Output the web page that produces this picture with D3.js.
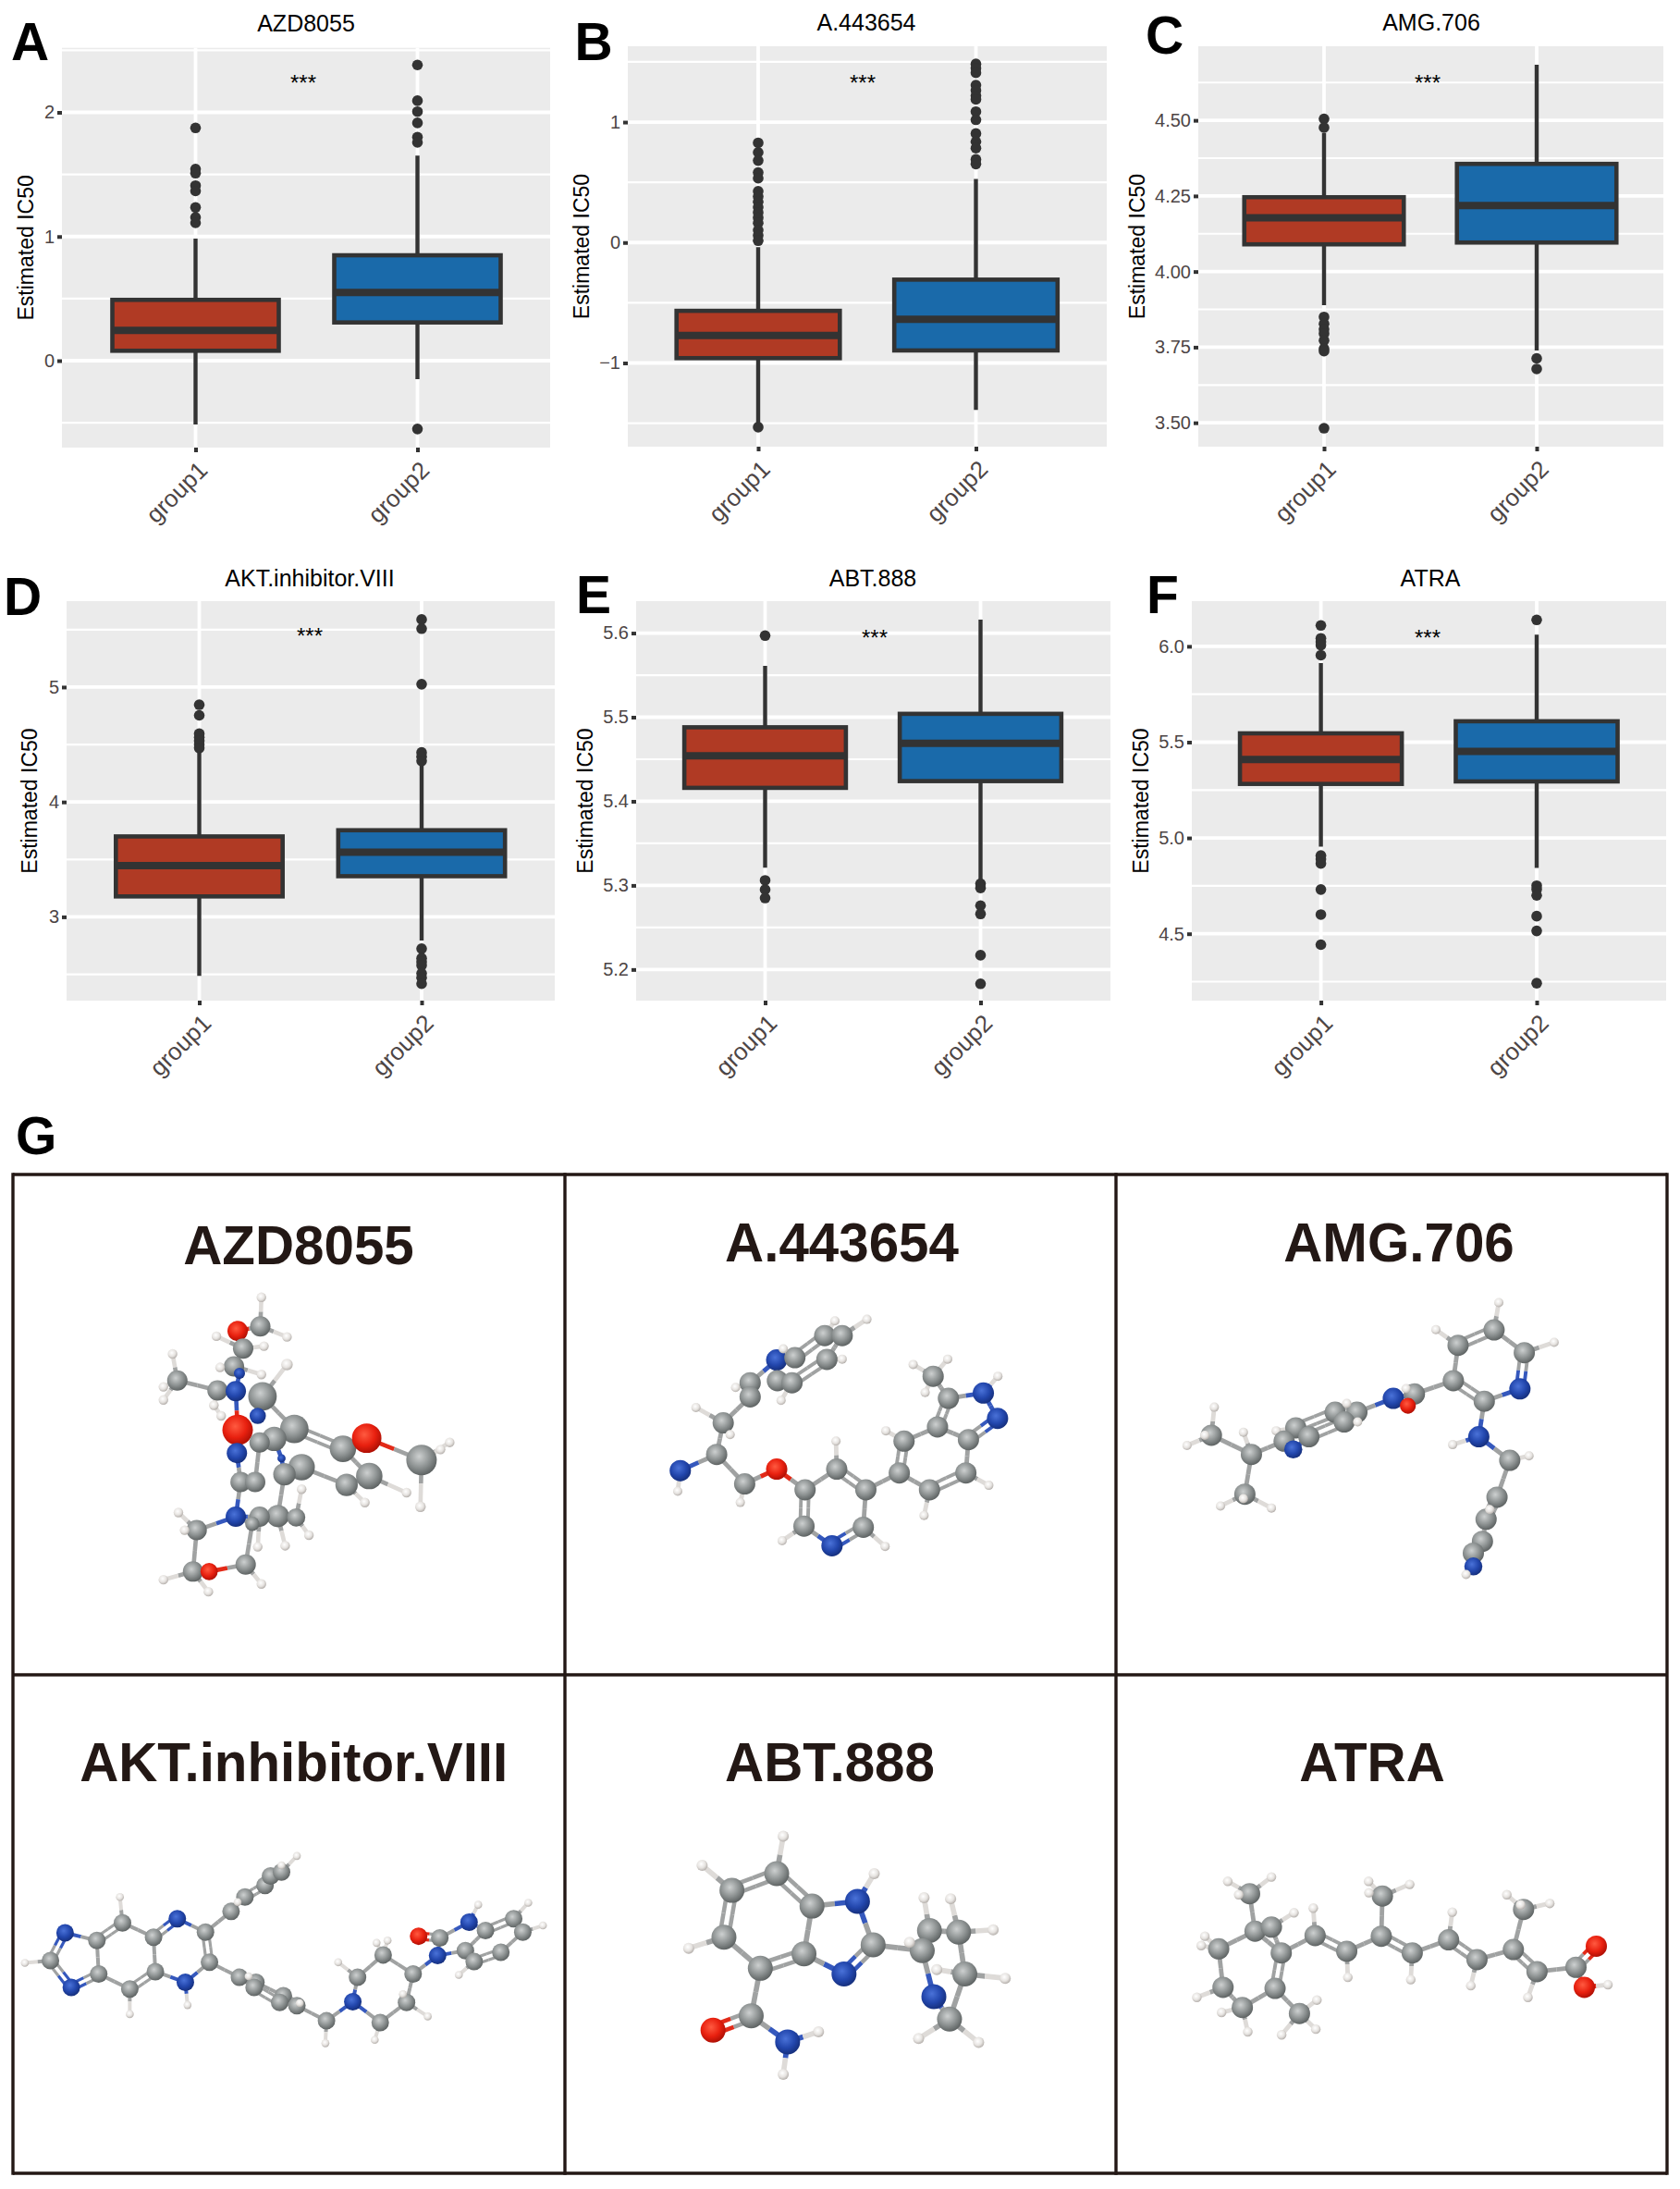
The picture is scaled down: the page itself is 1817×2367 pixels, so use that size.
<!DOCTYPE html>
<html><head><meta charset="utf-8">
<script src="https://cdn.jsdelivr.net/npm/d3@7"></script>
<style>html,body{margin:0;padding:0;background:#fff}svg{display:block}text{font-family:"Liberation Sans",Arial,sans-serif}</style>
</head><body><svg id="c" width="1817" height="2367"></svg>
<script>
// ---------- chart data ----------
const drugs=["AZD8055","A.443654","AMG.706","AKT.inhibitor.VIII","ABT.888","ATRA"];
const letters=["A","B","C","D","E","F","G"];
const groups=["group1","group2"];
const yDomains=[[-0.70,2.52],[-1.695,1.63],[3.421,4.745],[2.271,5.748],[5.163,5.638],[4.151,6.236]];
const majorTicks=[[0,1,2],[-1,0,1],[3.5,3.75,4,4.25,4.5],[3,4,5],[5.2,5.3,5.4,5.5,5.6],[4.5,5,5.5,6]];
const tickLabels=[["0","1","2"],["−1","0","1"],["3.50","3.75","4.00","4.25","4.50"],["3","4","5"],["5.2","5.3","5.4","5.5","5.6"],["4.5","5.0","5.5","6.0"]];
const minorTicks=[[-0.5,0.5,1.5,2.5],[-1.5,-0.5,0.5,1.5],[3.625,3.875,4.125,4.375,4.625],[2.5,3.5,4.5,5.5],[5.25,5.35,5.45,5.55],[4.25,4.75,5.25,5.75]];
const q1=[[0.08,0.308],[-0.96,-0.896],[4.09,4.096],[3.178,3.354],[5.416,5.424],[5.282,5.295]];
const medians=[[0.245,0.55],[-0.772,-0.637],[4.178,4.218],[3.446,3.563],[5.454,5.469],[5.41,5.452]];
const q3=[[0.49,0.849],[-0.567,-0.308],[4.246,4.356],[3.70,3.754],[5.488,5.504],[5.546,5.609]];
const whiskerLow=[[-0.513,-0.148],[-1.5,-1.389],[3.889,3.739],[2.486,2.794],[5.321,5.304],[4.954,4.843]];
const whiskerHigh=[[0.983,1.652],[-0.038,0.529],[4.458,4.684],[4.44,4.332],[5.561,5.616],[5.913,6.061]];
const outliersA=[[1.875,1.544,1.51,1.41,1.367,1.234,1.154,1.11],[2.382,2.094,2.006,1.915,1.80,1.758,-0.55]];
const outliersB=[[0.828,0.749,0.681,0.581,0.534,0.426,0.382,0.338,0.294,0.25,0.206,0.162,0.103,0.059,0.015,-1.533],[1.483,1.448,1.41,1.307,1.263,1.219,1.189,1.087,1.019,0.905,0.837,0.784,0.69,0.652]];
const outliersC=[[4.505,4.476,3.85,3.827,3.809,3.795,3.772,3.745,3.737,3.482],[3.713,3.678]];
const outliersD=[[4.846,4.754,4.594,4.563,4.532,4.50,4.47],[5.588,5.508,5.025,4.431,4.394,4.357,2.723,2.64,2.609,2.578,2.508,2.47,2.418]];
const outliersE=[[5.597,5.306,5.295,5.285],[5.302,5.297,5.276,5.266,5.217,5.183]];
const outliersF=[[6.109,6.042,6.024,6.006,5.954,4.908,4.889,4.867,4.731,4.60,4.443],[6.138,4.751,4.732,4.70,4.592,4.515,4.242]];
const outliers=[outliersA,outliersB,outliersC,outliersD,outliersE,outliersF];
const significance="***";

// ---------- molecule data: [element, x, y, relative size], bonds: [a, b, order], read in crop units of 1568 per side ----------
const molAZD=[["H",715,530],["C",712,612],["O",650,625],["H",592,640],["H",785,642],["C",665,675],["H",722,668],["C",640,725],["H",602,728],["H",715,748],["N",655,745,.55],["C",595,793],["C",485,765],["H",472,690],["H",447,783],["H",447,820],["N",645,795],["C",718,810,1.4],["H",785,720,1.2],["H",585,835],["H",605,865],["N",705,865,.8],["O",650,905,1.5],["C",805,902,1.4],["C",750,930,1.2],["C",710,940],["N",648,970],["C",938,958,1.3],["O",1003,928,1.45],["C",1153,990,1.5],["H",1230,940],["H",1150,1122,1.1],["H",1205,960],["C",825,1010,1.3],["C",778,1030,1.1],["N",770,985,.4],["C",1010,1035,1.3],["C",948,1060,1.1],["H",1112,1082],["H",998,1110],["C",658,1052],["C",698,1052],["N",645,1150],["C",760,1148,1.1],["C",710,1150],["C",810,1152,.9],["C",690,1170,.7],["H",825,1072],["H",845,1202],["H",780,1232],["H",705,1235],["C",538,1188],["H",488,1138],["H",505,1188],["C",528,1305],["O",572,1305,.85],["C",672,1285],["H",447,1328],["H",570,1362],["H",715,1340]];
const bondAZD=[[0,1],[1,2],[1,4],[2,5],[5,3],[5,6],[5,7],[7,8],[7,9],[7,10],[10,16],[11,16],[11,12],[12,13],[12,14],[12,15],[11,19],[19,20],[17,18],[17,21],[17,23],[16,22],[22,26],[26,40],[40,41,2],[40,42],[41,25],[25,24],[24,23],[23,27,2],[27,28],[28,29],[29,30],[29,31],[29,32],[27,36],[36,37],[36,38],[37,39],[33,37],[33,34],[34,35],[35,24],[34,43],[43,44],[43,45],[43,49],[45,47],[45,48],[44,42],[44,50],[42,51],[42,46],[46,56],[51,52],[51,53],[51,54],[54,55],[55,56],[54,57],[54,58],[56,59]];
const molA44=[["H",858,397],["H",770,402],["C",742,452],["C",790,452],["N",610,535],["C",660,527],["H",628,497],["C",748,533],["H",790,532],["C",537,612],["H",497,628],["C",612,605],["C",652,612],["H",622,672],["C",537,660],["C",463,748],["H",388,696],["H",482,788],["C",445,855],["N",345,910],["H",338,980],["C",522,955],["H",510,1018],["O",610,905],["C",688,975],["C",775,905],["H",773,810],["C",855,975],["C",685,1098],["H",625,1148],["N",762,1165],["C",848,1102],["H",908,1167],["C",947,918],["C",960,810],["H",910,775],["C",1030,975],["H",1015,1062],["C",1130,918],["H",1193,960],["C",1137,805],["C",1052,762],["C",1082,665],["C",1040,590],["H",985,550],["H",1080,532],["H",1018,645],["N",1178,647],["H",1218,590],["N",1217,733]];
const bondA44=[[0,3],[1,2],[2,3,2],[2,5,2],[3,7],[5,4],[6,5],[7,12,2],[7,8],[4,9],[9,14,2],[4,11],[11,12],[12,13],[9,10],[14,15],[15,16],[15,17],[15,18],[18,19],[19,20],[18,21],[21,22],[21,23],[23,24],[24,25],[25,26],[25,27,2],[24,28,2],[28,29],[28,30],[30,31,2],[31,32],[31,27],[27,33],[33,34,2],[34,35],[34,41],[33,36],[36,37],[36,38,2],[38,39],[38,40],[40,41],[41,42,2],[42,43],[43,44],[43,45],[43,46],[42,47],[47,48],[47,49],[49,40,2]];
const molAMG=[["H",1070,340],["C",1057,433],["H",897,432],["C",958,485],["C",1140,510],["H",1222,475],["C",945,605],["N",1128,633],["C",1030,675],["C",838,650],["N",780,665],["H",815,632],["O",820,690,.75],["C",680,712],["C",620,712],["H",652,682],["C",645,745],["H",682,745],["C",512,765],["C",548,795],["H",458,775],["C",480,810],["N",505,838,.85],["C",390,855],["C",280,790],["H",288,695],["H",262,790],["H",213,825],["H",368,780],["C",372,990],["H",305,1030],["H",368,1005],["H",445,1037],["N",1015,795],["H",943,822],["C",1100,875],["H",1153,860],["C",1065,1000],["C",1035,1075],["H",1045,1042],["C",1025,1150],["C",1000,1190],["N",1000,1235,.85],["H",980,1262]];
const bondAMG=[[0,1],[1,3,2],[2,3],[1,4],[4,5],[4,7,2],[3,6],[6,8,2],[7,8],[6,9],[9,10],[9,11],[9,12,2],[10,13],[13,14,2],[14,15],[13,16],[14,18,2],[16,19,2],[16,17],[18,21],[19,22],[21,22,2],[18,20],[21,23],[23,24],[24,25],[24,26],[24,27],[23,28],[23,29],[29,30],[29,31],[29,32],[8,33],[33,34],[33,35],[35,36],[35,37],[37,38,2],[38,39],[38,40],[40,41,2],[41,42],[42,43]];
const molAKT=[["H",68,892],["C",138,885],["N",178,802],["N",195,965],["C",265,825],["C",270,925],["C",335,772],["H",328,695],["C",355,970],["H",355,1045],["C",420,815],["C",425,918],["N",485,760],["N",507,950],["H",513,1018],["C",562,800],["C",573,890],["C",632,738],["C",670,695],["C",725,660],["C",740,632],["C",770,620],["H",812,572],["H",770,600],["H",650,710],["C",655,935],["C",700,950],["C",695,965],["C",775,990],["C",765,1010],["C",812,1020],["H",680,932],["H",820,1012],["C",893,1065],["H",890,1132],["N",965,1008],["C",978,935],["H",925,890],["C",1048,868],["H",1030,832],["H",1060,825],["C",1130,925],["C",1040,1070],["H",1025,1122],["C",1112,1010],["H",1170,1052],["H",1102,985],["N",1197,870],["C",1203,817],["O",1145,812],["N",1283,770],["H",1308,718],["C",1328,795],["C",1273,855],["C",1297,888],["H",1255,928],["C",1370,860],["C",1405,760],["C",1430,800],["H",1445,712],["H",1485,780]];
const bondAKT=[[0,1],[1,2,2],[1,3,2],[2,4],[3,5,2],[4,5],[4,6,2],[5,8],[6,7],[6,10],[8,9],[8,11,2],[10,11],[10,12,2],[11,13],[13,14],[12,15],[13,16],[15,16,2],[15,17],[17,18],[18,19,2],[19,20],[20,21],[21,22],[20,23],[18,24],[16,25],[25,26,2],[25,27],[26,28],[27,29,2],[28,30,2],[29,30],[30,32],[26,31],[30,33],[33,34],[33,35],[35,36],[35,42],[36,37],[36,38],[38,39],[38,40],[38,41],[41,44],[42,44],[42,43],[44,45],[44,46],[41,47],[47,48],[47,53],[48,49,2],[48,50],[50,51],[50,52],[52,53],[52,57,2],[53,54],[54,55],[54,56,2],[56,58],[57,58],[57,59],[58,60]];
const molABT=[["H",628,513],["C",610,625],["H",405,600],["C",487,675],["C",465,815],["H",368,848],["C",565,908],["C",685,865],["C",707,722],["N",832,708],["H",878,625],["C",875,838],["N",795,925],["C",540,1050],["O",435,1093],["N",640,1128],["H",725,1098],["H",628,1225],["C",1030,795],["C",1010,855],["C",1110,800],["H",1015,697],["H",1088,700],["H",1205,793],["C",1127,925],["H",1050,912],["H",1238,938],["N",1042,993],["C",1085,1060],["H",1000,1118],["H",1165,1130],["H",975,830]];
const bondABT=[[0,1],[1,3,2],[2,3],[3,4,2],[4,5],[4,6],[6,7,2],[7,8],[8,1,2],[8,9],[9,10],[9,11],[11,12,2],[12,7],[6,13],[13,14,2],[13,15],[15,16],[15,17],[11,19],[19,18],[18,21],[18,20],[20,22],[20,23],[20,24],[24,25],[24,26],[24,28],[19,27],[27,28],[28,29],[28,30],[19,31]];
const molATR=[["H",325,648],["H",445,635],["C",385,685],["H",355,688],["C",400,797],["C",445,785],["H",507,742],["C",300,850],["H",262,812],["H",252,840],["C",472,862],["C",565,810],["H",560,728],["C",652,857],["H",655,935],["C",747,812],["C",750,692],["H",712,648],["H",825,657],["H",713,682],["C",832,862],["H",828,942],["C",932,823],["H",942,740],["C",1010,882],["H",993,960],["C",1110,852],["C",1138,732],["H",1092,688],["H",1210,714],["H",1130,718],["C",1175,918],["H",1150,995],["C",1282,905],["O",1338,842],["O",1305,965],["H",1370,957],["C",455,968],["C",312,965],["H",240,995],["C",365,1025],["H",308,1040],["H",380,1098],["C",522,1043],["H",570,1003],["H",473,1107],["H",567,1090]];
const bondATR=[[0,2],[1,2],[2,3],[2,4],[4,5],[5,6],[4,7],[7,8],[7,9],[4,10],[5,10],[10,11],[11,12],[11,13,2],[13,14],[13,15],[15,16],[16,17],[16,18],[16,19],[15,20,2],[20,21],[20,22],[22,23],[22,24,2],[24,25],[24,26],[26,27],[27,28],[27,29],[27,30],[26,31,2],[31,32],[31,33],[33,34,2],[33,35],[35,36],[10,37,2],[7,38],[38,39],[38,40],[40,41],[40,42],[40,37],[37,43],[43,44],[43,45],[43,46]];
const cellLabelText=["AZD8055","A.443654","AMG.706","AKT.inhibitor.VIII","ABT.888","ATRA"];

// ---------- layout ----------
const W=1817,H=2367;
const plotBoxes=[[67,595,51.7,484],[679,1197,50,483],[1296,1799,50,483],[72,600,650,1082],[688,1201,650,1082],[1289,1802,650,1082]];
const centers=[[211.5,451.5],[820,1055.5],[1432,1662],[215.5,456],[827.5,1060.5],[1428.6,1662]];
const titleAnchors=[[331,33.7],[937,32.5],[1548,32.5],[335,634.4],[944,634.4],[1547,634.4]];
const starAnchors=[[328,97.5],[933,97.5],[1544,97.5],[335,695.5],[946,697.5],[1544,697.5]];
const letterAnchors=[[12,65],[621.5,65],[1239,57.5],[4,665],[623,663],[1240,663],[17,1248]];
const ylabelX=[36,637,1238,40,641,1242];
const cols=["#B03A24","#1A6AAA"],ink="#333333",tickInk="#4d4545",panelBg="#EBEBEB";
const svg=d3.select("#c");
svg.append("rect").attr("width",W).attr("height",H).attr("fill","#fff");

drugs.forEach((name,i)=>{
  const [l,r,t,b]=plotBoxes[i];
  const y=d3.scaleLinear().domain(yDomains[i]).range([b,t]);
  const x=d3.scalePoint().domain(groups).range(centers[i]);
  const bw=(centers[i][1]-centers[i][0])*0.75;
  const g=svg.append("g");
  g.append("rect").attr("x",l).attr("y",t).attr("width",r-l).attr("height",b-t).attr("fill",panelBg);
  g.selectAll(".mn").data(minorTicks[i]).join("line").attr("x1",l).attr("x2",r).attr("y1",d=>y(d)).attr("y2",d=>y(d)).attr("stroke","#fff").attr("stroke-width",2.2);
  g.selectAll(".mj").data(majorTicks[i]).join("line").attr("x1",l).attr("x2",r).attr("y1",d=>y(d)).attr("y2",d=>y(d)).attr("stroke","#fff").attr("stroke-width",3.8);
  g.selectAll(".vg").data(groups).join("line").attr("x1",d=>x(d)).attr("x2",d=>x(d)).attr("y1",t).attr("y2",b).attr("stroke","#fff").attr("stroke-width",3.8);
  // axes
  const ax=g.append("g").attr("transform",`translate(0,${b})`).call(d3.axisBottom(x).tickSize(5).tickPadding(0));
  ax.select(".domain").remove();
  ax.selectAll("line").attr("stroke",ink).attr("stroke-width",4);
  ax.selectAll("text").attr("x",0).attr("y",0).attr("dy",0).attr("text-anchor","end").attr("font-size",26).attr("fill",tickInk)
    .attr("transform","translate(14,26) rotate(-45)");
  const ay=g.append("g").attr("transform",`translate(${l},0)`).call(d3.axisLeft(y).tickValues(majorTicks[i]).tickSize(5).tickPadding(3).tickFormat((d,k)=>tickLabels[i][k]));
  ay.select(".domain").remove();
  ay.selectAll("line").attr("stroke",ink).attr("stroke-width",4);
  ay.selectAll("text").attr("font-size",20).attr("fill",tickInk);
  // boxes
  groups.forEach((gr,k)=>{
    const cx=x(gr);
    g.append("line").attr("x1",cx).attr("x2",cx).attr("y1",y(whiskerHigh[i][k])).attr("y2",y(whiskerLow[i][k])).attr("stroke",ink).attr("stroke-width",4.4);
    g.append("rect").attr("x",cx-bw/2).attr("width",bw).attr("y",y(q3[i][k])).attr("height",y(q1[i][k])-y(q3[i][k])).attr("fill",cols[k]).attr("stroke",ink).attr("stroke-width",4.6);
    g.append("line").attr("x1",cx-bw/2).attr("x2",cx+bw/2).attr("y1",y(medians[i][k])).attr("y2",y(medians[i][k])).attr("stroke",ink).attr("stroke-width",8);
    g.selectAll(".o"+k).data(outliers[i][k]).join("circle").attr("cx",cx).attr("cy",d=>y(d)).attr("r",5.8).attr("fill",ink);
  });
  // text
  svg.append("text").attr("x",titleAnchors[i][0]).attr("y",titleAnchors[i][1]).attr("text-anchor","middle").attr("font-size",25).attr("fill","#000").text(name);
  svg.append("text").attr("x",starAnchors[i][0]).attr("y",starAnchors[i][1]).attr("text-anchor","middle").attr("font-size",24).attr("fill","#000").text(significance);
  svg.append("text").attr("transform",`translate(${ylabelX[i]},${(t+b)/2}) rotate(-90)`).attr("text-anchor","middle").attr("font-size",23).attr("fill","#000").text("Estimated IC50");
});
letters.forEach((s,i)=>{
  svg.append("text").attr("x",letterAnchors[i][0]).attr("y",letterAnchors[i][1]).attr("font-size",57).attr("font-weight","bold").attr("fill","#000").text(s);
});

// ---------- panel G ----------
const gridX=[14,611,1207,1803],gridY=[1270,1811,2350];
const gInk="#231815";
gridX.forEach(v=>svg.append("line").attr("x1",v).attr("x2",v).attr("y1",gridY[0]-1.7).attr("y2",gridY[2]+1.7).attr("stroke",gInk).attr("stroke-width",3.4));
gridY.forEach(v=>svg.append("line").attr("y1",v).attr("y2",v).attr("x1",gridX[0]).attr("x2",gridX[3]).attr("stroke",gInk).attr("stroke-width",3.4));
const cellAnchors=[[323,1366.5],[910.5,1364],[1513,1364],[317.7,1926],[897.5,1926],[1484,1926]];
cellLabelText.forEach((c,i)=>svg.append("text").attr("x",cellAnchors[i][0]).attr("y",cellAnchors[i][1]).attr("text-anchor","middle").attr("font-size",58.3).attr("font-weight","bold").attr("fill",gInk).text(c));

const defs=svg.append("defs");
const atomStyle={C:["#cdd0d0","#8c9191","#5f6464"],H:["#ffffff","#e6e3e0","#b5b0ac"],O:["#ff5a40","#e8200f","#b01005"],N:["#4a72d8","#2246ac","#16307e"]};
Object.entries(atomStyle).forEach(([e,c])=>{
  const g=defs.append("radialGradient").attr("id","atom"+e).attr("cx","0.42").attr("cy","0.38").attr("r","0.62");
  g.append("stop").attr("offset","0").attr("stop-color",c[0]);
  g.append("stop").attr("offset","0.6").attr("stop-color",c[1]);
  g.append("stop").attr("offset","1").attr("stop-color",c[2]);
});
const bondColor={C:"#a0a2a2",H:"#dedbd8",O:"#e22a18",N:"#3558bd"};
const molecules=[
 {atoms:molAZD,bonds:bondAZD,crop:[0,1200,620,600],c:11,h:5.2},
 {atoms:molA44,bonds:bondA44,crop:[600,1300,617,500],c:11.5,h:5},
 {atoms:molAMG,bonds:bondAMG,crop:[1200,1300,617,500],c:11.5,h:5},
 {atoms:molAKT,bonds:bondAKT,crop:[0,1800,620,567],c:9.5,h:4.3},
 {atoms:molABT,bonds:bondABT,crop:[600,1800,617,567],c:13.5,h:6},
 {atoms:molATR,bonds:bondATR,crop:[1200,1800,617,567],c:11.5,h:5.2}
];
molecules.forEach(m=>{
  const [cx,cy,cw,ch]=m.crop;
  const sx=d3.scaleLinear().domain([0,1568]).range([cx,cx+cw]);
  const sy=d3.scaleLinear().domain([0,1568]).range([cy,cy+ch]);
  const g=svg.append("g");
  const seg=(x1,y1,x2,y2,col,w)=>g.append("line").attr("x1",x1).attr("y1",y1).attr("x2",x2).attr("y2",y2).attr("stroke",col).attr("stroke-width",w);
  const w0=m.c*0.42;
  m.bonds.forEach(([a,b,o])=>{
    const A=m.atoms[a],B=m.atoms[b];
    const x1=sx(A[1]),y1=sy(A[2]),x2=sx(B[1]),y2=sy(B[2]),mx=(x1+x2)/2,my=(y1+y2)/2;
    const len=Math.hypot(x2-x1,y2-y1)||1,nx=-(y2-y1)/len,ny=(x2-x1)/len;
    const offs=o===2?[-w0*.85,w0*.85]:[0],w=o===2?w0*.8:w0;
    offs.forEach(f=>{
      seg(x1+nx*f,y1+ny*f,mx+nx*f,my+ny*f,bondColor[A[0]],w);
      seg(mx+nx*f,my+ny*f,x2+nx*f,y2+ny*f,bondColor[B[0]],w);
    });
  });
  g.selectAll("circle").data(m.atoms).join("circle")
    .attr("cx",d=>sx(d[1])).attr("cy",d=>sy(d[2]))
    .attr("r",d=>(d[0]==="H"?m.h:m.c)*(d[3]||1))
    .attr("fill",d=>`url(#atom${d[0]})`);
});
</script></body></html>
